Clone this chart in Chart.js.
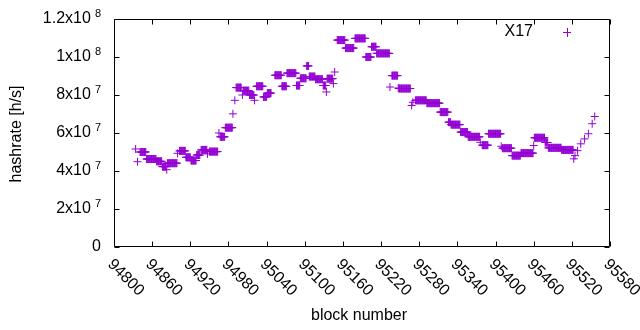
<!DOCTYPE html>
<html>
<head>
<meta charset="utf-8">
<script src="https://cdn.jsdelivr.net/npm/chart.js@4"></script>
<style>html,body{margin:0;padding:0;background:#fff}</style>
</head>
<body>
<canvas id="hashChart" width="640" height="330"></canvas>
<script>
const seriesName = 'X17';

// runs of blocks that share one hashrate value (from, to, value)
const runFrom = [94834, 94837, 94841, 94851, 94867, 94876, 94883, 94884, 94900, 94903,
  94913, 94921, 94930, 94937, 94947, 94950, 94965, 94967, 94975, 94987,
  94990, 94992, 95002, 95003, 95013, 95021, 95024, 95035, 95041, 95053,
  95064, 95072, 95087, 95093, 95103, 95107, 95117, 95129, 95134, 95135,
  95145, 95147, 95151, 95164, 95179, 95196, 95205, 95213, 95234, 95237,
  95247, 95248, 95268, 95270, 95274, 95292, 95313, 95326, 95330, 95345,
  95357, 95376, 95379, 95389, 95409, 95411, 95426, 95440, 95460, 95461,
  95478, 95483, 95504, 95523, 95525, 95529, 95534, 95540, 95546, 95552, 95556];
const runTo = [94834, 94837, 94850, 94866, 94875, 94882, 94883, 94899, 94900, 94912,
  94920, 94929, 94935, 94946, 94947, 94963, 94965, 94974, 94986, 94987,
  94990, 95000, 95002, 95012, 95020, 95021, 95034, 95040, 95047, 95063,
  95071, 95086, 95092, 95102, 95106, 95116, 95128, 95133, 95134, 95144,
  95145, 95147, 95163, 95177, 95195, 95204, 95212, 95233, 95234, 95246,
  95247, 95266, 95268, 95270, 95291, 95312, 95325, 95329, 95344, 95356,
  95375, 95376, 95388, 95408, 95409, 95425, 95439, 95459, 95460, 95477,
  95482, 95503, 95522, 95523, 95525, 95529, 95534, 95540, 95546, 95552, 95556];
const runHash = [5.16e7, 4.49e7, 5.0e7, 4.63e7, 4.51e7, 4.23e7, 4.07e7, 4.41e7, 4.93e7, 5.06e7,
  4.72e7, 4.55e7, 4.84e7, 5.11e7, 4.9e7, 5.02e7, 6.0e7, 5.8e7, 6.28e7, 7.01e7,
  7.72e7, 8.39e7, 8.0e7, 8.23e7, 8.0e7, 7.72e7, 8.46e7, 7.9e7, 8.1e7, 9.04e7,
  8.46e7, 9.15e7, 8.5e7, 8.88e7, 9.53e7, 8.97e7, 8.83e7, 8.5e7, 8.16e7, 8.86e7,
  8.6e7, 9.21e7, 10.89e7, 10.47e7, 10.98e7, 10.0e7, 10.54e7, 10.19e7, 8.42e7, 9.02e7,
  8.37e7, 8.34e7, 7.45e7, 7.62e7, 7.72e7, 7.57e7, 7.1e7, 6.57e7, 6.44e7, 6.05e7,
  5.8e7, 5.51e7, 5.36e7, 5.96e7, 5.3e7, 5.2e7, 4.81e7, 4.94e7, 5.34e7, 5.75e7,
  5.5e7, 5.22e7, 5.11e7, 4.64e7, 4.81e7, 5.07e7, 5.43e7, 5.69e7, 5.96e7, 6.49e7, 6.87e7];

const xTicks = [94800, 94860, 94920, 94980, 95040, 95100, 95160, 95220, 95280, 95340, 95400, 95460, 95520, 95580];
const yTicks = [0, 2e7, 4e7, 6e7, 8e7, 1e8, 1.2e8];
const yTickBase = ['0', '2x10', '4x10', '6x10', '8x10', '1x10', '1.2x10'];
const yTickExp = ['', '7', '7', '7', '7', '8', '8'];

const purple = '#9400d3';
const font = '"Liberation Sans", Arial, sans-serif';

const points = [];
runFrom.forEach((from, i) => {
  for (let b = from; b <= runTo[i]; b++) points.push({ x: b, y: runHash[i] });
});

// gnuplot-like frame, mirrored inward ticks, labels and key
const gnuplotFrame = {
  id: 'gnuplotFrame',
  afterDraw(chart) {
    const { ctx, chartArea: { left, right, top, bottom }, scales: { x, y } } = chart;
    const L = left + 0.5, R = right - 0.5, T = top + 0.5, B = bottom - 0.5;
    const tick = 5;
    ctx.save();
    ctx.strokeStyle = '#000';
    ctx.lineWidth = 1;
    ctx.beginPath();
    ctx.rect(L, T, R - L, B - T);
    yTicks.forEach(v => {
      const py = Math.round(y.getPixelForValue(v)) + 0.5;
      ctx.moveTo(L, py); ctx.lineTo(L + tick, py);
      ctx.moveTo(R, py); ctx.lineTo(R - tick, py);
    });
    xTicks.forEach(v => {
      const px = Math.round(x.getPixelForValue(v)) + 0.5;
      ctx.moveTo(px, B); ctx.lineTo(px, B - tick);
      ctx.moveTo(px, T); ctx.lineTo(px, T + tick);
    });
    ctx.stroke();

    ctx.fillStyle = '#000';
    // y tick labels with superscript exponent
    yTicks.forEach((v, i) => {
      const py = y.getPixelForValue(v);
      let xr = 101;
      if (yTickExp[i]) {
        ctx.font = '11px ' + font;
        ctx.textAlign = 'right';
        ctx.textBaseline = 'middle';
        ctx.fillText(yTickExp[i], xr, py - 5);
        xr -= ctx.measureText(yTickExp[i]).width + 4;
      }
      ctx.font = '16px ' + font;
      ctx.textAlign = 'right';
      ctx.textBaseline = 'middle';
      ctx.fillText(yTickBase[i], xr, py);
    });

    // x tick labels rotated by -45 (reading downwards)
    ctx.font = '16px ' + font;
    ctx.textAlign = 'left';
    ctx.textBaseline = 'middle';
    xTicks.forEach(v => {
      const px = x.getPixelForValue(v);
      ctx.save();
      ctx.translate(px - 4, 262);
      ctx.rotate(Math.PI / 4);
      ctx.fillText(String(v), 0, 0);
      ctx.restore();
    });

    // axis titles
    ctx.textAlign = 'center';
    ctx.fillText('block number', 359, 316);
    ctx.save();
    ctx.translate(17, 134);
    ctx.rotate(-Math.PI / 2);
    ctx.fillText('hashrate [h/s]', 0, 0);
    ctx.restore();

    // key
    ctx.textAlign = 'right';
    ctx.fillText(seriesName, 533, 32);
    ctx.strokeStyle = purple;
    ctx.beginPath();
    ctx.moveTo(563, 32.5); ctx.lineTo(571, 32.5);
    ctx.moveTo(567.5, 28); ctx.lineTo(567.5, 37);
    ctx.stroke();
    ctx.restore();
  }
};

new Chart(document.getElementById('hashChart'), {
  type: 'scatter',
  data: {
    datasets: [{
      label: seriesName,
      data: points,
      showLine: false,
      pointStyle: 'cross',
      pointRadius: 4,
      pointHoverRadius: 4,
      borderWidth: 1,
      borderColor: purple,
      backgroundColor: purple
    }]
  },
  options: {
    responsive: false,
    animation: false,
    events: [],
    layout: { padding: { left: 114, right: 30, top: 19, bottom: 83 } },
    scales: {
      x: { type: 'linear', min: 94800, max: 95580, display: false },
      y: { min: 0, max: 1.2e8, display: false }
    },
    plugins: {
      legend: { display: false },
      tooltip: { enabled: false }
    }
  },
  plugins: [gnuplotFrame]
});
</script>
</body>
</html>
